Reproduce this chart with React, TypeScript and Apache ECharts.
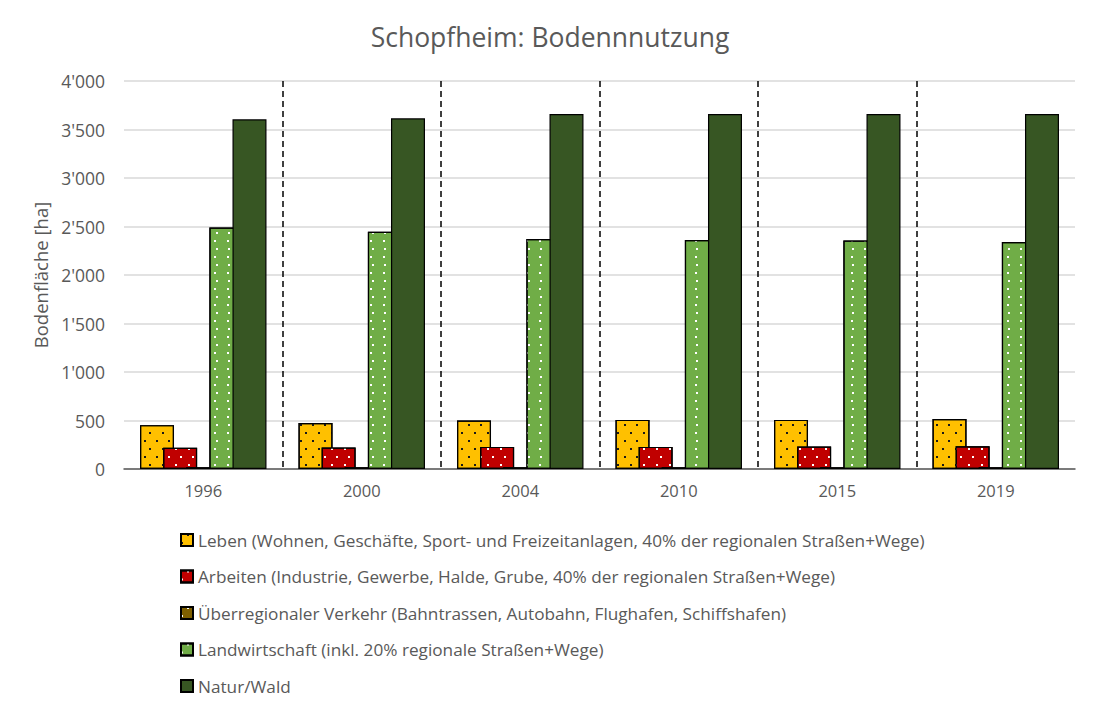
import React, { useEffect, useRef } from "react";
import * as echarts from "echarts";

const years = ["1996", "2000", "2004", "2010", "2015", "2019"];
const leben = [452, 475, 500, 506, 506, 516];
const arbeiten = [218, 222, 228, 228, 232, 235];
const verkehr = [18, 18, 18, 18, 18, 18];
const landwirtschaft = [2490, 2445, 2370, 2360, 2355, 2340];
const natur = [3605, 3615, 3660, 3660, 3660, 3660];

const seriesNames = [
  "Leben (Wohnen, Geschäfte, Sport- und Freizeitanlagen, 40% der regionalen Straßen+Wege)",
  "Arbeiten (Industrie, Gewerbe, Halde, Grube, 40% der regionalen Straßen+Wege)",
  "Überregionaler Verkehr (Bahntrassen, Autobahn, Flughafen, Schiffshafen)",
  "Landwirtschaft (inkl. 20% regionale Straßen+Wege)",
  "Natur/Wald",
];

const FONT = "'Open Sans', sans-serif";
const TXT = "#595959";

function dots(color: string) {
  return {
    symbol: "rect",
    symbolSize: 1,
    color,
    dashArrayX: [
      [1.6, 9.8],
      [0, 5.7, 1.6, 4.1],
    ],
    dashArrayY: [1.6, 5.2],
    rotation: 0,
  };
}

export default function App() {
  const ref = useRef<HTMLDivElement>(null);
  useEffect(() => {
    document.body.style.margin = "0";
    const chart = echarts.init(ref.current!, undefined, { renderer: "svg" });
    const data = [leben, arbeiten, verkehr, landwirtschaft, natur];
    const colors = ["#FFC000", "#C00000", "#7F6000", "#70AD47", "#375623"];
    const decals = [dots("#1a1a1a"), dots("#ffffff"), dots("#ffffff"), dots("#ffffff"), null];
    chart.setOption({
      animation: false,
      backgroundColor: "#ffffff",
      title: {
        text: "Schopfheim: Bodennnutzung",
        left: "center",
        top: 18,
        textStyle: { fontFamily: FONT, fontSize: 26.5, fontWeight: "normal", color: TXT },
      },
      legend: {
        orient: "vertical",
        left: 175,
        top: 525,
        icon: "rect",
        itemWidth: 12,
        itemHeight: 12,
        itemGap: 16.5,
        textStyle: { fontFamily: FONT, fontSize: 17.2, color: TXT, lineHeight: 20 },
        data: seriesNames,
      },
      grid: { left: 124, right: 25, top: 81, bottom: 247 },
      xAxis: {
        type: "category",
        data: years,
        axisLine: { lineStyle: { color: "#595959", width: 1.5 } },
        axisTick: { show: false },
        axisLabel: { fontFamily: FONT, fontSize: 16.5, color: TXT, margin: 13 },
        splitLine: {
          show: true,
          showMinLine: false,
          showMaxLine: false,
          lineStyle: { color: "#000", width: 1.5, type: [6, 4] },
        },
      },
      yAxis: {
        type: "value",
        min: 0,
        max: 4000,
        interval: 500,
        name: "Bodenfläche [ha]",
        nameLocation: "middle",
        nameGap: 70,
        nameTextStyle: { fontFamily: FONT, fontSize: 18.5, color: TXT },
        axisLine: { show: false },
        axisTick: { show: false },
        axisLabel: {
          fontFamily: FONT,
          fontSize: 17.5,
          color: TXT,
          margin: 19,
          formatter: (v: number) => String(v).replace(/\B(?=(\d{3})+(?!\d))/g, "'"),
        },
        splitLine: { lineStyle: { color: "#d9d9d9", width: 1.5 } },
      },
      series: seriesNames.map((name, i) => ({
        name,
        type: "bar",
        data: data[i],
        barWidth: 34,
        barGap: "-32%",
        itemStyle: {
          color: colors[i],
          borderColor: "#000",
          borderWidth: 1.2,
          ...(decals[i] ? { decal: decals[i] } : {}),
        },
      })),
    });
    return () => chart.dispose();
  }, []);
  return <div ref={ref} style={{ width: 1100, height: 716 }} />;
}
